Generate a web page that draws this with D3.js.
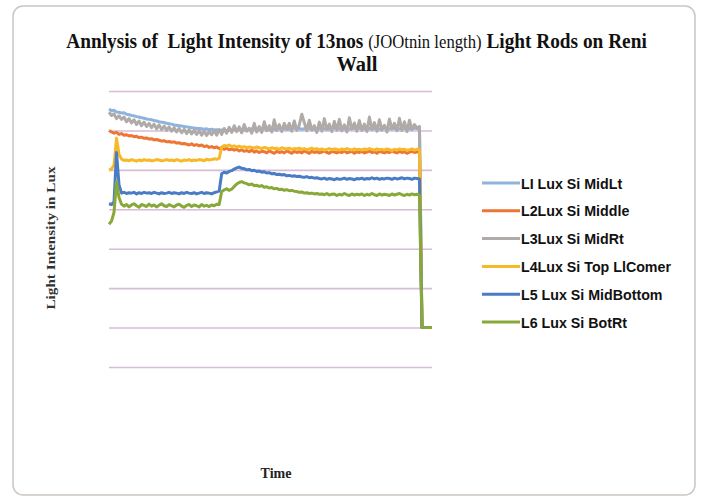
<!DOCTYPE html>
<meta charset="utf-8">
<script src="https://d3js.org/d3.v7.min.js"></script>
<style>
  body { margin: 0; background: #fff; }
  svg text { white-space: pre; }
</style>
<div id="chart"></div>
<script>
// series names as printed in the legend
var names = ["LI Lux Si MidLt", "L2Lux Si Middle", "L3Lux Si MidRt",
             "L4Lux Si Top LlComer", "L5 Lux Si MidBottom", "L6 Lux Si BotRt"];

// readings, one per time step (0..129)
var L1 = [554,550,551,547,546,544,545,541,540,538,537,535,534,532,531,529,528,527,525,524,522,521,520,518,517,
          516,514,513,512,511,510,509,508,507,506,505,505,504,503,504,502,503,501,502,500,501,499,500,501,500,
          502,501,503,502,501,503,502,504,503,502,504,503,505,503,502,504,503,505,504,503,505,504,503,504,506,
          504,505,503,504,506,505,504,503,505,504,506,504,505,503,504,506,505,504,506,505,503,504,506,505,504,
          506,505,504,503,505,506,504,505,503,504,506,505,504,506,505,503,504,506,505,504,505,503,506,505,503,
          0,0,0,0,0];
var L2 = [500,496,493,495,490,492,488,489,486,487,484,485,482,483,480,481,478,479,476,477,475,473,474,471,472,
          470,471,468,469,466,467,465,463,466,462,464,461,463,459,461,457,459,456,458,454,456,452,455,451,453,
          450,452,448,451,447,449,446,450,445,448,444,447,446,443,448,445,442,447,444,446,443,448,445,442,447,
          444,446,443,448,445,442,447,444,446,443,445,448,444,442,447,445,443,446,444,448,443,445,447,442,446,
          444,447,443,445,448,444,446,442,447,445,443,446,444,448,445,443,447,444,446,442,445,447,444,446,445,
          0,0,0,0,0];
var L3 = [546,538,542,530,537,528,534,522,530,519,527,515,524,512,521,510,518,507,516,504,514,502,511,500,509,
          498,507,496,505,494,503,492,502,491,500,490,499,488,498,487,497,489,500,488,502,490,505,493,508,495,
          512,497,509,494,515,498,506,493,518,496,510,495,522,499,512,496,527,500,515,497,518,503,518,498,524,
          500,514,541,520,499,526,501,512,495,521,498,530,502,516,497,523,500,528,499,514,496,532,503,519,498,
          525,500,516,497,534,502,520,498,527,501,513,496,529,503,518,499,531,500,522,497,526,502,515,506,510,
          0,0,0,0,0];
var L4 = [400,402,412,480,440,427,424,425,423,426,424,422,425,423,426,424,425,423,424,426,425,423,424,426,424,
          425,423,426,424,422,425,424,426,423,425,424,426,425,423,427,425,426,428,427,429,458,462,460,463,459,
          461,458,460,457,459,456,458,457,455,458,456,454,457,455,453,456,454,455,452,456,454,453,455,452,454,
          453,455,452,454,451,453,455,452,454,451,453,450,452,454,451,453,452,450,453,451,454,452,450,453,451,
          452,450,453,451,454,452,450,453,451,452,450,453,451,449,452,450,453,451,452,450,451,453,450,452,451,
          0,0,0,0,0];
var L5 = [314,312,318,444,362,341,343,340,342,341,343,339,342,340,343,341,342,340,343,341,339,342,340,341,343,
          340,342,341,339,342,340,343,341,340,342,339,341,343,340,342,341,339,342,344,346,390,394,392,396,398,
          402,405,407,404,403,400,401,398,399,396,397,394,395,392,393,390,391,388,389,387,388,385,386,384,385,
          383,384,382,381,383,380,381,379,380,378,377,379,376,378,377,375,378,376,377,379,376,378,377,375,378,
          377,379,376,378,377,380,377,379,376,378,377,379,378,376,379,377,378,380,377,379,378,376,379,378,377,
          0,0,0,0,0];
var L6 = [262,270,292,369,330,313,308,312,306,311,314,309,305,312,310,307,313,308,311,306,310,314,309,307,312,
          309,306,311,313,308,305,310,312,307,311,309,306,312,308,310,307,311,309,313,312,345,349,352,348,351,
          358,364,368,370,367,365,362,364,360,361,358,360,356,357,354,355,352,353,350,351,348,350,347,348,346,
          345,343,344,341,342,340,341,339,340,338,339,337,340,336,338,339,335,338,336,340,337,335,339,336,338,
          337,339,335,338,336,340,337,335,339,336,338,337,335,339,336,338,340,337,335,338,336,339,337,338,336,
          0,0,0,0,0];

var series = [L1, L2, L3, L4, L5, L6];
var colors = ["#8fb3dc", "#ee7635", "#b0aaa8", "#f6b928", "#4a7cc6", "#88a93a"];

var W = 704, H = 497;
var plot = {left: 109, right: 432, top: 91, bottom: 367};

var svg = d3.select("#chart").append("svg")
  .attr("width", W).attr("height", H);

// outer chart frame
svg.append("rect")
  .attr("x", 13).attr("y", 6)
  .attr("width", 682).attr("height", 489)
  .attr("rx", 10)
  .attr("fill", "#fff")
  .attr("stroke", "#cdc5c1")
  .attr("stroke-width", 1.5);

var x = d3.scaleLinear().domain([0, L1.length - 1]).range([plot.left, plot.right]);
var y = d3.scaleLinear().domain([-100, 600]).range([plot.bottom, plot.top]);

// gridlines (no tick labels in the original)
var grid = svg.append("g")
  .attr("transform", "translate(" + plot.left + ",0)")
  .call(d3.axisLeft(y).tickValues(d3.range(-100, 601, 100))
    .tickSize(-(plot.right - plot.left)).tickFormat(""));
grid.select(".domain").remove();
grid.selectAll(".tick line")
  .attr("stroke", "#d6bcd6")
  .attr("stroke-width", 1.6);

// lines
var line = d3.line()
  .x(function(d, i) { return x(i); })
  .y(function(d) { return y(d); });

svg.append("g").selectAll("path")
  .data(series)
  .enter().append("path")
    .attr("fill", "none")
    .attr("stroke", function(d, i) { return colors[i]; })
    .attr("stroke-width", 3)
    .attr("stroke-linejoin", "round")
    .attr("d", line);

// squeeze a text element to a target width, keeping its anchor point
function fit(sel, w) {
  var n = sel.node().getComputedTextLength();
  var cx = +sel.attr("x"), cy = +sel.attr("y");
  sel.attr("transform", "translate(" + cx + "," + cy + ") scale(" + (w / n) + ",1) translate(" + (-cx) + "," + (-cy) + ")");
}

var serif = "'Liberation Serif', 'Times New Roman', serif";

// title
var t1 = svg.append("text")
  .attr("x", 356.5).attr("y", 48)
  .attr("text-anchor", "middle")
  .attr("font-family", serif)
  .attr("font-weight", "bold")
  .attr("font-size", 22)
  .attr("fill", "#111");
t1.append("tspan").text("Annlysis of  Light Intensity of 13nos ");
t1.append("tspan").attr("font-weight", "normal").attr("font-size", 19).text("(JOOtnin length)");
t1.append("tspan").text(" Light Rods on Reni");
fit(t1, 581);

var t2 = svg.append("text")
  .attr("x", 357).attr("y", 71)
  .attr("text-anchor", "middle")
  .attr("font-family", serif)
  .attr("font-weight", "bold")
  .attr("font-size", 20)
  .attr("fill", "#111")
  .text("Wall");
fit(t2, 41);

// axis titles
svg.append("text")
  .attr("transform", "translate(55,238) rotate(-90)")
  .attr("text-anchor", "middle")
  .attr("font-family", serif)
  .attr("font-weight", "bold")
  .attr("font-size", 12)
  .attr("textLength", 143)
  .attr("lengthAdjust", "spacingAndGlyphs")
  .attr("fill", "#333")
  .text("Light Intensity in Lux");

svg.append("text")
  .attr("x", 276).attr("y", 478)
  .attr("text-anchor", "middle")
  .attr("font-family", serif)
  .attr("font-weight", "bold")
  .attr("font-size", 14)
  .attr("fill", "#222")
  .text("Time");

// legend
var legend = svg.append("g").selectAll("g")
  .data(names)
  .enter().append("g")
    .attr("transform", function(d, i) { return "translate(482," + (183 + i * 27.8) + ")"; });

legend.append("line")
  .attr("x1", 0).attr("x2", 38)
  .attr("stroke", function(d, i) { return colors[i]; })
  .attr("stroke-width", 3);

legend.append("text")
  .attr("transform", "translate(39,5.5) scale(0.95,1)")
  .attr("font-family", "'Liberation Sans', Arial, sans-serif")
  .attr("font-weight", "bold")
  .attr("font-size", 15)
  .attr("fill", "#111")
  .text(function(d) { return d; });
</script>
